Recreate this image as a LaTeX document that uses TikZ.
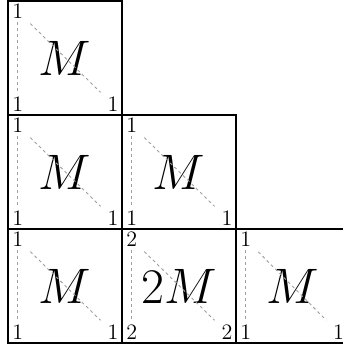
\documentclass[tikz,border=0pt]{standalone}
\usepackage{tikz}
\usetikzlibrary{calc}
\tikzset{
  cell/.style={draw,line width=0.6pt,minimum size=2cm,
               inner sep=0pt,font=\fontsize{28}{32}\selectfont},
  corner/.style={font=\fontsize{11}{13}\selectfont,inner sep=1.5pt},
  guide/.style={gray!75,line width=0.45pt,dash pattern=on 1.5pt off 1.5pt},
}
\begin{document}
\begin{tikzpicture}
  \useasboundingbox (0,0) rectangle (6.0,-6.035);
  \foreach \c/\r/\k/\txt/\dx in {0/0/1/M/0.167,0/1/1/M/0.167,1/1/1/M/0.167,
                                 0/2/1/M/0.167,1/2/2/2M/0.167,2/2/1/M/0.21}{
    \node[cell] (box\c\r) at (1.14+2*\c,-1.0175-2*\r) {$\txt$};
    \node[corner] (tl\c\r) at ([shift={(0.184,-0.193)}]box\c\r.north west) {\k};
    \node[corner] (bl\c\r) at ([shift={(0.184,0.193)}]box\c\r.south west) {\k};
    \node[corner] (br\c\r) at ([shift={(-\dx,0.193)}]box\c\r.south east) {\k};
    \draw[guide] (tl\c\r) -- (bl\c\r);
    \draw[guide,shorten <=0.09cm,shorten >=0.09cm] (tl\c\r) -- (br\c\r);
  }
\end{tikzpicture}
\end{document}
